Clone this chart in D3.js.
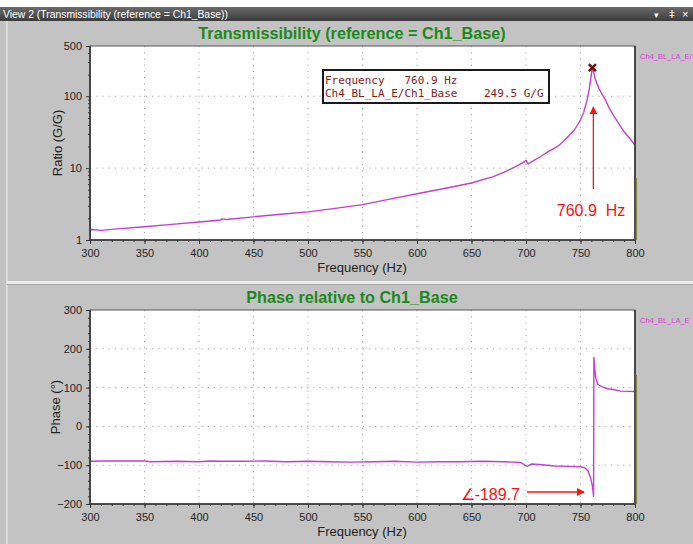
<!DOCTYPE html>
<html>
<head>
<meta charset="utf-8">
<script src="https://cdn.jsdelivr.net/npm/d3@7"></script>
<style>
  body { margin: 0; background: #c3c3c3; }
  text { font-family: "Liberation Sans", Arial, sans-serif; }
</style>
</head>
<body>
<div id="chart"></div>
<script>
// magnitude of Ch4_BL_LA_E / Ch1_Base
const magFreq = [300, 301, 310, 325, 350, 375, 400, 420, 421, 425, 450, 475, 500, 525, 550, 575, 600, 625, 650,
  670, 680, 690, 698, 700, 702, 705, 713, 720, 729, 735, 741, 745, 750, 753, 756, 758, 759.5, 760.9,
  762, 763.5, 765, 767, 770, 773, 776, 780, 785, 790, 795, 800];
const magRatio = [1.30, 1.40, 1.36, 1.43, 1.53, 1.65, 1.78, 1.90, 1.97, 1.93, 2.10, 2.28, 2.46, 2.75, 3.10, 3.70, 4.40, 5.20, 6.20,
  7.60, 8.80, 10.4, 12.1, 12.8, 11.4, 12.2, 14.4, 16.8, 20.0, 24.0, 30.0, 35.0, 47.0, 60.0, 88.0, 125, 180, 249.5,
  215, 175, 150, 128, 105, 88, 70, 55, 42, 32, 26, 21];

// phase relative to Ch1_Base
const phaseFreq = [300, 301, 310, 350, 355, 380, 400, 410, 420, 440, 460, 480, 500, 520, 540, 560, 580, 600, 620, 640,
  660, 680, 695, 701, 705, 715, 726, 740, 750, 754, 757, 759.5, 761, 762, 762.3, 763, 764, 766, 770, 775, 780, 787, 800];
const phaseDeg = [-85, -90, -89, -89, -91, -90, -91, -89, -90, -90, -89, -91, -90, -91, -92, -91, -90, -92, -91, -91,
  -90, -91, -93, -103, -97, -99, -102, -103, -104, -107, -115, -135, -155, -180, 178, 150, 125, 108, 102, 97, 95, 91, 90];

// second trace only visible on the 800 Hz edge
const edgeFreq = [800, 800];
const edgeRatio = [1, 7.3];
const edgePhase = [-200, 132];

const xTicks = [300, 350, 400, 450, 500, 550, 600, 650, 700, 750, 800];
const ratioTicks = [1, 10, 100, 500];
const phaseTicks = [-200, -100, 0, 100, 200, 300];

const peakFreq = 760.9;
const peakRatio = 249.5;
const minPhaseLabel = '∠-189.7';

const width = 693;
const height = 544;
const lineColor = '#c43fcf';
const red = '#ff1010';

const svg = d3.select('#chart').append('svg')
  .attr('width', width)
  .attr('height', height);

// window chrome
svg.append('rect').attr('width', width).attr('height', height).attr('fill', '#c3c3c3');
svg.append('rect').attr('width', width).attr('height', 7).attr('fill', '#ffffff');
const defs = svg.append('defs');
const grad = defs.append('linearGradient')
  .attr('id', 'bar').attr('x1', 0).attr('x2', 0).attr('y1', 0).attr('y2', 1);
grad.append('stop').attr('offset', '0%').attr('stop-color', '#6a6a6a');
grad.append('stop').attr('offset', '100%').attr('stop-color', '#3c3c3c');
svg.append('rect').attr('y', 7).attr('width', width).attr('height', 14).attr('fill', 'url(#bar)');
svg.append('text')
  .attr('x', 3).attr('y', 18)
  .attr('fill', '#ffffff')
  .style('font-size', '10px')
  .attr('textLength', 225)
  .attr('lengthAdjust', 'spacingAndGlyphs')
  .text('View 2 (Transmissibility (reference = Ch1_Base))');
svg.append('text').attr('x', 654).attr('y', 18).attr('fill', '#fff').style('font-size', '9px').text('▾');
svg.append('text').attr('x', 669).attr('y', 18).attr('fill', '#fff').style('font-size', '10px').text('ǂ');
svg.append('text').attr('x', 682).attr('y', 18).attr('fill', '#fff').style('font-size', '11px').text('×');
svg.append('line').attr('x1', 7).attr('x2', 7).attr('y1', 21).attr('y2', height)
  .attr('stroke', '#e2e2e2').attr('stroke-width', 1.5);
svg.append('rect').attr('x', 7).attr('y', 281).attr('width', width - 7).attr('height', 3).attr('fill', '#ececec');
svg.append('line').attr('x1', 7).attr('x2', width).attr('y1', 284.5).attr('y2', 284.5)
  .attr('stroke', '#a8a8a8');

const x = d3.scaleLinear().domain([300, 800]).range([90, 635]);

function drawPanel(opts) {
  const g = svg.append('g');
  const y = opts.y;
  const y0 = y.range()[1];
  const y1 = y.range()[0];

  g.append('rect')
    .attr('x', 90).attr('y', y0)
    .attr('width', 545).attr('height', y1 - y0)
    .attr('fill', '#ffffff');

  // dotted grid
  g.selectAll('.vgrid').data(xTicks.slice(1, -1)).enter().append('line')
    .attr('x1', d => x(d)).attr('x2', d => x(d))
    .attr('y1', y0).attr('y2', y1)
    .attr('stroke', '#a9a9a9').attr('stroke-dasharray', '1.2,5');
  g.selectAll('.hgrid').data(opts.grid).enter().append('line')
    .attr('x1', 90).attr('x2', 635)
    .attr('y1', d => y(d)).attr('y2', d => y(d))
    .attr('stroke', '#a9a9a9').attr('stroke-dasharray', '1.2,5');

  // traces
  const line = d3.line().x(d => x(d[0])).y(d => y(d[1]));
  g.append('path')
    .datum(d3.zip(opts.xs, opts.ys))
    .attr('d', line)
    .attr('fill', 'none').attr('stroke', lineColor).attr('stroke-width', 1.4)
    .attr('stroke-linejoin', 'round');

  // frame
  g.append('rect')
    .attr('x', 90).attr('y', y0)
    .attr('width', 545).attr('height', y1 - y0)
    .attr('fill', 'none').attr('stroke', '#555').attr('stroke-width', 1);
  g.append('path')
    .attr('d', `M90,${y0}V${y1}H635V${y0}`)
    .attr('fill', 'none').attr('stroke', '#333').attr('stroke-width', 1.6);

  // trace sitting on the right edge
  g.append('path')
    .datum(d3.zip(opts.edgeX, opts.edgeY))
    .attr('d', line)
    .attr('transform', 'translate(1, 0)')
    .attr('fill', 'none').attr('stroke', '#6b6b10').attr('stroke-width', 1.5);

  // x axis
  const xAxis = g.append('g')
    .attr('transform', `translate(0, ${y1})`)
    .call(d3.axisBottom(x).tickValues(d3.range(300, 801, 10)).tickSize(2).tickFormat(''));
  xAxis.select('.domain').remove();
  const xMajor = g.append('g')
    .attr('transform', `translate(0, ${y1})`)
    .call(d3.axisBottom(x).tickValues(xTicks).tickSize(4).tickPadding(5).tickFormat(d3.format('d')));
  xMajor.select('.domain').remove();
  [xAxis, xMajor].forEach(a => a.selectAll('line').attr('stroke', '#333'));
  xMajor.selectAll('text')
    .attr('fill', '#222')
    .style('font-size', '11px')
    .style('font-family', '"Liberation Sans", Arial, sans-serif');

  // y axis
  const yMinor = g.append('g')
    .attr('transform', 'translate(90, 0)')
    .call(d3.axisLeft(y).tickValues(opts.minor).tickSize(2).tickFormat(''));
  yMinor.select('.domain').remove();
  const yMajor = g.append('g')
    .attr('transform', 'translate(90, 0)')
    .call(d3.axisLeft(y).tickValues(opts.ticks).tickSize(4).tickPadding(4).tickFormat(d3.format('d')));
  yMajor.select('.domain').remove();
  [yMinor, yMajor].forEach(a => a.selectAll('line').attr('stroke', '#333'));
  yMajor.selectAll('text')
    .attr('fill', '#222')
    .style('font-size', '11px')
    .style('font-family', '"Liberation Sans", Arial, sans-serif');

  // titles
  g.append('text')
    .attr('x', 352).attr('y', y0 - 7)
    .attr('text-anchor', 'middle')
    .attr('fill', '#1b8a1b')
    .style('font-size', '16.2px')
    .style('font-weight', 'bold')
    .text(opts.title);
  g.append('text')
    .attr('x', 362).attr('y', y1 + 32)
    .attr('text-anchor', 'middle')
    .attr('fill', '#222')
    .style('font-size', '13px')
    .text('Frequency (Hz)');
  g.append('text')
    .attr('transform', `translate(${opts.labelX}, ${(y0 + y1) / 2}) rotate(-90)`)
    .attr('text-anchor', 'middle')
    .attr('fill', '#222')
    .style('font-size', '13px')
    .text(opts.yLabel);
  g.append('text')
    .attr('x', 640).attr('y', y0 + 13)
    .attr('fill', '#dd33dd')
    .style('font-size', '7.5px')
    .text(opts.legend);

  return g;
}

// top: transmissibility magnitude
const yRatio = d3.scaleLog().domain([1, 500]).range([240, 46]);
const ratioMinor = [];
[1, 10, 100].forEach(dec => d3.range(2, 10).forEach(k => { if (dec * k < 500) ratioMinor.push(dec * k); }));
const magPanel = drawPanel({
  y: yRatio,
  xs: magFreq, ys: magRatio,
  edgeX: edgeFreq, edgeY: edgeRatio,
  grid: [10, 100],
  ticks: ratioTicks,
  minor: ratioMinor,
  title: 'Transmissibility (reference = Ch1_Base)',
  yLabel: 'Ratio (G/G)',
  legend: 'Ch4_BL_LA_E/',
  labelX: 62
});

// bottom: phase
const yPhase = d3.scaleLinear().domain([-200, 300]).range([504, 310]);
const phasePanel = drawPanel({
  y: yPhase,
  xs: phaseFreq, ys: phaseDeg,
  edgeX: edgeFreq, edgeY: edgePhase,
  grid: [-100, 0, 100, 200],
  ticks: phaseTicks,
  minor: d3.range(-200, 301, 20),
  title: 'Phase relative to Ch1_Base',
  yLabel: 'Phase (°)',
  legend: 'Ch4_BL_LA_E',
  labelX: 60
});

// peak cursor
const px = x(peakFreq);
const py = yRatio(peakRatio);
magPanel.append('path')
  .attr('d', `M${px - 3.5},${py - 3.5}L${px + 3.5},${py + 3.5}M${px - 3.5},${py + 3.5}L${px + 3.5},${py - 3.5}`)
  .attr('stroke', '#6a1010').attr('stroke-width', 2.5);

// cursor readout box
magPanel.append('rect')
  .attr('x', 323).attr('y', 70).attr('width', 226).attr('height', 33)
  .attr('fill', '#ffffff').attr('stroke', '#1a1a1a').attr('stroke-width', 2);
const readout = [
  'Frequency   ' + peakFreq.toFixed(1) + ' Hz',
  'Ch4_BL_LA_E/Ch1_Base    ' + peakRatio.toFixed(1) + ' G/G'
];
magPanel.selectAll('.readout').data(readout).enter().append('text')
  .attr('x', 325).attr('y', (d, i) => 84 + i * 13)
  .attr('fill', '#8b2020')
  .style('font-family', '"DejaVu Sans Mono", monospace')
  .style('font-size', '11px')
  .style('white-space', 'pre')
  .text(d => d);

// red annotations
defs.append('marker')
  .attr('id', 'head').attr('viewBox', '0 0 10 10')
  .attr('refX', 9).attr('refY', 5)
  .attr('markerWidth', 8).attr('markerHeight', 8)
  .attr('markerUnits', 'userSpaceOnUse')
  .attr('orient', 'auto')
  .append('path').attr('d', 'M0,0L10,5L0,10Z').attr('fill', red);

magPanel.append('line')
  .attr('x1', px + 1).attr('x2', px + 1)
  .attr('y1', 189).attr('y2', 107)
  .attr('stroke', red).attr('stroke-width', 1.3)
  .attr('marker-end', 'url(#head)');
magPanel.append('text')
  .attr('x', 591).attr('y', 216)
  .attr('text-anchor', 'middle')
  .attr('fill', red)
  .style('white-space', 'pre')
  .style('font-size', '16px')
  .text(peakFreq.toFixed(1) + '  Hz');

phasePanel.append('line')
  .attr('x1', 527).attr('x2', 584)
  .attr('y1', 492).attr('y2', 492)
  .attr('stroke', red).attr('stroke-width', 1.3)
  .attr('marker-end', 'url(#head)');
phasePanel.append('text')
  .attr('x', 520).attr('y', 500)
  .attr('text-anchor', 'end')
  .attr('fill', red)
  .style('font-size', '16px')
  .text(minPhaseLabel);
</script>
</body>
</html>
